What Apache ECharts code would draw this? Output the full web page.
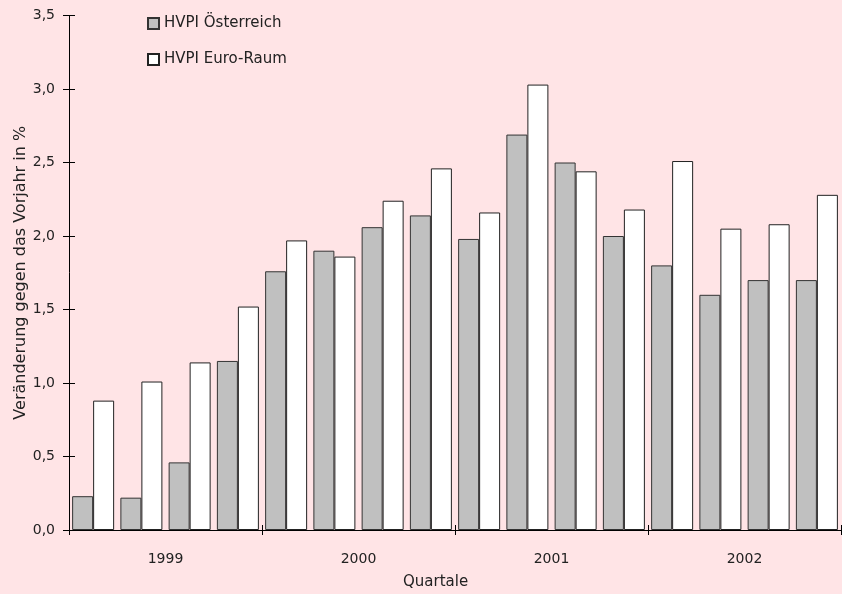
<!DOCTYPE html>
<html>
<head>
<meta charset="utf-8">
<script src="https://cdn.jsdelivr.net/npm/echarts@6/dist/echarts.min.js"></script>
<style>
html,body{margin:0;padding:0;background:#ffe4e6;}
#c{width:842px;height:594px;}
</style>
</head>
<body>
<div id="c"></div>
<script>
var quarters = ['Q1 1999','Q2 1999','Q3 1999','Q4 1999','Q1 2000','Q2 2000','Q3 2000','Q4 2000','Q1 2001','Q2 2001','Q3 2001','Q4 2001','Q1 2002','Q2 2002','Q3 2002','Q4 2002'];
var years = ['1999','2000','2001','2002'];
var austria = [0.23,0.22,0.46,1.15,1.76,1.90,2.06,2.14,1.98,2.69,2.50,2.00,1.80,1.60,1.70,1.70];
var euro = [0.88,1.01,1.14,1.52,1.97,1.86,2.24,2.46,2.16,3.03,2.44,2.18,2.51,2.05,2.08,2.28];
var seriesNames = ['HVPI Österreich','HVPI Euro-Raum'];

var font = 'DejaVu Sans';
var chart = echarts.init(document.getElementById('c'));
function fmt(v){return v.toFixed(1).replace('.',',');}
var gridBase = {containLabel:false, outerBoundsMode:'none'};
function grid(l,r,t,b){return Object.assign({left:l,right:r,top:t,bottom:b},gridBase);}
chart.setOption({
  backgroundColor:'#ffe4e6',
  animation:false,
  textStyle:{fontFamily:font},
  grid:[grid(69,1,15.5,64), grid(75,1,15.5,64), grid(69,1,15.5,69)],
  legend:{
    orient:'vertical',left:142,top:11,itemGap:21,itemWidth:11,itemHeight:11,
    icon:'rect',
    textStyle:{fontFamily:font,fontSize:15,color:'#222'},
    data:seriesNames
  },
  xAxis:[
    {gridIndex:0,type:'category',data:quarters,boundaryGap:true,
     axisLine:{show:false},axisTick:{show:false},axisLabel:{show:false}},
    {gridIndex:0,type:'category',data:years,boundaryGap:true,position:'bottom',
     axisLine:{show:true,onZero:false,lineStyle:{color:'#000',width:1}},
     axisTick:{show:true,inside:false,length:5,lineStyle:{color:'#000'}},
     axisLabel:{show:true,margin:22,fontSize:14,color:'#222',fontFamily:font}},
    {gridIndex:1,type:'category',data:quarters,show:false},
    {gridIndex:2,type:'category',data:years,boundaryGap:true,position:'bottom',
     axisLine:{show:false,onZero:false},
     axisTick:{show:true,inside:false,length:5,lineStyle:{color:'#000'}},
     axisLabel:{show:false}}
  ],
  yAxis:[
    {gridIndex:0,type:'value',min:0,max:3.5,interval:0.5,position:'left',
     axisLine:{show:true,onZero:false,lineStyle:{color:'#000',width:1}},
     axisTick:{show:true,inside:false,length:6,lineStyle:{color:'#000'}},
     splitLine:{show:false},
     axisLabel:{margin:14,fontSize:14,color:'#222',fontFamily:font,formatter:function(v){return fmt(v);}},
     name:'Veränderung gegen das Vorjahr in %',nameLocation:'middle',nameGap:40,nameRotate:90,
     nameMoveOverlap:false,
     nameTextStyle:{fontSize:16,color:'#222',fontFamily:font}},
    {gridIndex:1,type:'value',min:0,max:3.5,interval:0.5,position:'left',
     axisLine:{show:false,onZero:false},
     axisTick:{show:true,inside:false,length:6,lineStyle:{color:'#000'}},
     splitLine:{show:false},axisLabel:{show:false}},
    {gridIndex:2,type:'value',min:0,max:3.5,interval:0.5,show:false}
  ],
  graphic:[{type:'text',left:403,top:575,style:{text:'Quartale',fontFamily:font,fontSize:15,fill:'#222'}}],
  series:[
    {name:seriesNames[0],type:'bar',xAxisIndex:0,yAxisIndex:0,data:austria,barWidth:21,barGap:'0%',
     itemStyle:{color:'#c0c0c0',borderColor:'#333',borderWidth:1}},
    {name:seriesNames[1],type:'bar',xAxisIndex:0,yAxisIndex:0,data:euro,barWidth:21,barGap:'0%',
     itemStyle:{color:'#ffffff',borderColor:'#222',borderWidth:1}}
  ]
});
</script>
</body>
</html>
